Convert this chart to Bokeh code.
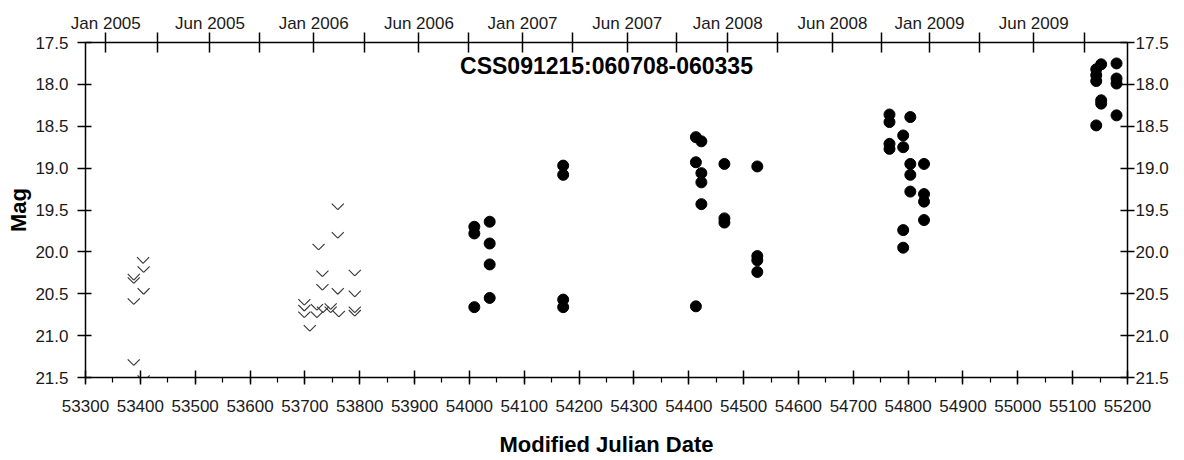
from bokeh.plotting import figure
from bokeh.models import (Range1d, LinearAxis, FixedTicker, SingleIntervalTicker,
                          NumeralTickFormatter, Label, ColumnDataSource)
from bokeh.transform import dodge
from bokeh.embed import file_html
from bokeh.resources import INLINE

# ---- data ----
title_text = "CSS091215:060708-060335"
x_label_text = "Modified Julian Date"
y_label_text = "Mag"

# upper limits (open "V" symbols)
lim_mjd = [53405, 53406, 53388, 53388, 53406, 53388, 53388, 53406,
           53760, 53760, 53725, 53732, 53791, 53732, 53760, 53791,
           53699, 53699, 53699, 53722, 53722, 53733, 53747, 53747,
           53762, 53791, 53791, 53709]
lim_mag = [20.10, 20.21, 20.30, 20.34, 20.47, 20.59, 21.32, 21.51,
           19.46, 19.80, 19.94, 20.26, 20.25, 20.42, 20.47, 20.50,
           20.60, 20.67, 20.75, 20.66, 20.75, 20.69, 20.65, 20.69,
           20.74, 20.69, 20.73, 20.91]

# detections (filled circles)
det_mjd = [54009, 54009, 54037, 54037, 54037, 54037, 54009,
           54171, 54171, 54171, 54171,
           54413, 54423, 54413, 54423, 54423, 54423, 54465, 54465, 54465, 54413,
           54525, 54525, 54525, 54525,
           54766, 54766, 54804, 54766, 54766, 54791, 54791, 54804, 54829,
           54804, 54804, 54829, 54829, 54829, 54791, 54791,
           55143, 55143, 55143, 55152, 55180, 55180, 55180, 55152, 55152,
           55180, 55143]
det_mag = [19.70, 19.78, 19.64, 19.90, 20.15, 20.55, 20.66,
           18.97, 19.08, 20.57, 20.66,
           18.63, 18.68, 18.93, 19.06, 19.17, 19.43, 18.95, 19.60, 19.65, 20.65,
           18.98, 20.05, 20.10, 20.24,
           18.36, 18.45, 18.39, 18.71, 18.77, 18.61, 18.75, 18.95, 18.95,
           19.08, 19.28, 19.31, 19.40, 19.62, 19.74, 19.95,
           17.82, 17.89, 17.96, 17.76, 17.75, 17.93, 17.99, 18.19, 18.23,
           18.37, 18.49]

x_start, x_end = 53300, 55200
y_top, y_bottom = 17.5, 21.5
y_ticks = [17.5, 18.0, 18.5, 19.0, 19.5, 20.0, 20.5, 21.0, 21.5]

# top calendar axis (labelled ticks and unlabelled ticks, in MJD)
top_tick_mjd = [53337, 53527, 53716, 53908, 54097, 54288, 54471, 54662, 54839, 55029]
top_tick_labels = ["Jan 2005", "Jun 2005", "Jan 2006", "Jun 2006", "Jan 2007",
                   "Jun 2007", "Jan 2008", "Jun 2008", "Jan 2009", "Jun 2009"]
top_minor_mjd = [53431, 53617, 53808, 53998, 54188, 54378, 54561, 54752, 54930, 55122]

# ---- figure ----
FONT = "Liberation Sans"
TXT = "#1a1a1a"

p = figure(width=1184, height=460,
           x_range=Range1d(x_start, x_end), y_range=Range1d(y_bottom, y_top),
           output_backend="svg", toolbar_location=None,
           min_border_left=85, min_border_right=57, min_border_top=42, min_border_bottom=83)
p.grid.visible = False
p.outline_line_color = None
p.background_fill_color = "white"
p.border_fill_color = "white"

def style_axis(ax, size="17px"):
    ax.axis_line_color = "black"
    ax.axis_line_width = 1.5
    ax.major_tick_line_color = "black"
    ax.major_tick_line_width = 1.5
    ax.minor_tick_line_color = "black"
    ax.minor_tick_line_width = 1.2
    ax.major_label_text_font = FONT
    ax.major_label_text_font_size = size
    ax.major_label_text_color = TXT

# bottom axis
xa = p.xaxis[0]
xa.ticker = SingleIntervalTicker(interval=100, num_minor_ticks=2)
xa.formatter = NumeralTickFormatter(format="0")
style_axis(xa)
xa.major_tick_in = 7
xa.major_tick_out = 7
xa.minor_tick_in = 0
xa.minor_tick_out = 5
xa.major_label_standoff = 15
xa.axis_label = x_label_text
xa.axis_label_text_font = FONT
xa.axis_label_text_font_style = "bold"
xa.axis_label_text_font_size = "22px"
xa.axis_label_text_color = "black"
xa.axis_label_standoff = 17

# left axis
ya = p.yaxis[0]
ya.ticker = FixedTicker(ticks=y_ticks)
ya.formatter = NumeralTickFormatter(format="0.0")
style_axis(ya)
ya.major_tick_in = 6
ya.major_tick_out = 8
ya.minor_tick_in = 0
ya.minor_tick_out = 0
ya.major_label_standoff = 9
ya.axis_label = y_label_text
ya.axis_label_text_font = FONT
ya.axis_label_text_font_style = "bold"
ya.axis_label_text_font_size = "22px"
ya.axis_label_text_color = "black"
ya.axis_label_standoff = 1

# right axis
ra = LinearAxis(ticker=FixedTicker(ticks=y_ticks), formatter=NumeralTickFormatter(format="0.0"))
style_axis(ra)
ra.major_tick_in = 7
ra.major_tick_out = 7
ra.minor_tick_in = 0
ra.minor_tick_out = 0
ra.major_label_standoff = 1
p.add_layout(ra, "right")

# top axis
ta = LinearAxis(ticker=FixedTicker(ticks=top_tick_mjd, minor_ticks=top_minor_mjd),
                major_label_overrides=dict(zip(top_tick_mjd, top_tick_labels)))
style_axis(ta)
ta.major_tick_in = 10
ta.major_tick_out = 10
ta.minor_tick_in = 10
ta.minor_tick_out = 10
ta.minor_tick_line_width = 1.5
ta.major_label_standoff = 0
p.add_layout(ta, "above")

# upper limits as "V" chevrons
lim_src = ColumnDataSource(dict(x=lim_mjd, y=lim_mag))
for side in (-11, 11):
    p.segment(x0=dodge("x", side), y0=dodge("y", -0.036), x1="x", y1=dodge("y", 0.036),
              source=lim_src, line_color="#333333", line_width=1.1)

# detections
p.scatter(det_mjd, det_mag, size=11, marker="circle", fill_color="black", line_color="black")

# title inside the plot area
p.add_layout(Label(x=(x_start + x_end) / 2, y=y_top, y_offset=-23, text=title_text,
                   text_align="center", text_baseline="middle",
                   text_font=FONT, text_font_style="bold", text_font_size="23px",
                   text_color="black"))

open("out.html", "w").write(file_html(p, INLINE))
